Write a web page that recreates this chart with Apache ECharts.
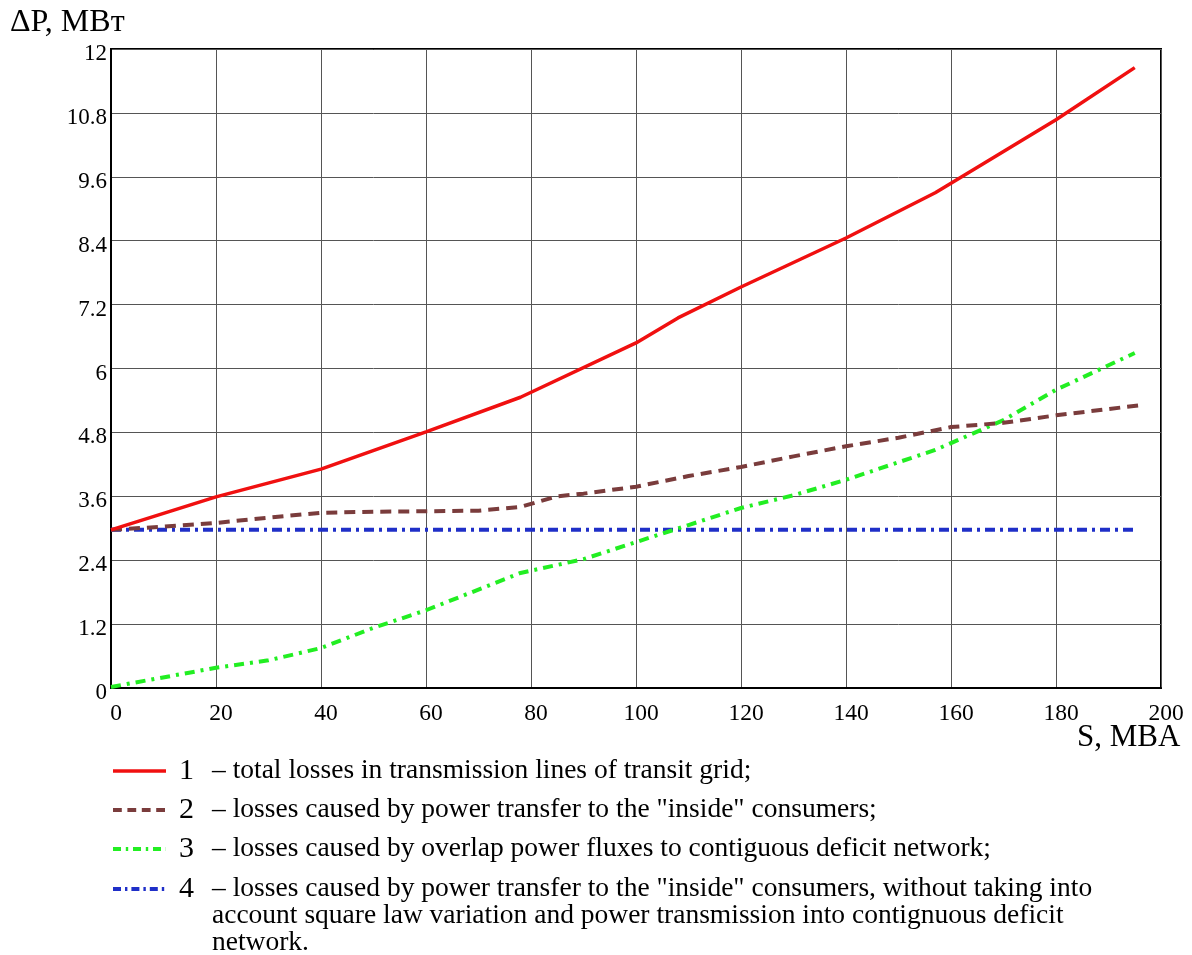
<!DOCTYPE html>
<html><head><meta charset="utf-8">
<script src="https://cdn.jsdelivr.net/npm/echarts@6/dist/echarts.min.js"></script>
<style>html,body{margin:0;padding:0;background:#fff}#c{width:1192px;height:955px}</style>
</head><body><div id="c"></div>
<script>
// ---- data ----
const xTicks = [0,20,40,60,80,100,120,140,160,180,200];
const yTicks = [0,1.2,2.4,3.6,4.8,6,7.2,8.4,9.6,10.8,12];

const s1X = [0,20,40,60,78,100,108,120,140,157,160,180,195];
const s1Y = [2.97,3.59,4.11,4.81,5.46,6.48,6.95,7.53,8.45,9.30,9.48,10.67,11.65];

const s2X = [0,10,20,30,40,50,60,70,78,85,90,100,110,120,130,140,150,160,170,180,196];
const s2Y = [2.97,3.03,3.10,3.20,3.29,3.31,3.32,3.33,3.40,3.60,3.65,3.78,3.98,4.15,4.35,4.54,4.70,4.90,4.98,5.12,5.31];

const s3X = [0,20,30,40,50,60,78,90,100,110,120,130,140,150,157,160,170,180,195];
const s3Y = [0.02,0.38,0.52,0.75,1.13,1.46,2.16,2.42,2.74,3.06,3.38,3.62,3.91,4.24,4.47,4.60,5.03,5.60,6.29];

const s4X = [0,195];
const s4Y = [2.97,2.97];

const legendNums = ['1','2','3','4'];
const legendTexts = [
  '– total losses in transmission lines of transit grid;',
  '– losses caused by power transfer to the "inside" consumers;',
  '– losses caused by overlap power fluxes to contiguous deficit network;',
  '– losses caused by power transfer to the "inside" consumers, without taking into\naccount square law variation and power transmission into contignuous deficit\nnetwork.'
];
const yTitle = 'ΔP, МВт';
const xTitle = 'S, MBA';

// ---- chart ----
const FONT = '"Liberation Serif","DejaVu Serif",serif';
const pairs = (xs, ys) => xs.map((x,i)=>[x, ys[i]]);
const styles = [
  {color:'#f01010', width:3.5, type:'solid'},
  {color:'#7a3c3c', width:4, type:[11,7]},
  {color:'#22ee22', width:4, type:[10,6,3,6]},
  {color:'#1f2fc8', width:4, type:[10,5,3,5]}
];
const data = [pairs(s1X,s1Y), pairs(s2X,s2Y), pairs(s3X,s3Y), pairs(s4X,s4Y)];

const chart = echarts.init(document.getElementById('c'), null, {renderer:'canvas'});
const legendRowsY = [771, 810, 849, 889];
const graphic = [
  {type:'text', x:10, y:7, style:{text:yTitle, font:'32px '+FONT, fill:'#000', verticalAlign:'top'}},
  {type:'text', x:1077, y:722, style:{text:xTitle, font:'31px '+FONT, fill:'#000', verticalAlign:'top'}}
];
legendRowsY.forEach((y,i)=>{
  graphic.push({type:'line', shape:{x1:113,y1:y,x2:166,y2:y},
    style:{stroke:styles[i].color, lineWidth:styles[i].width,
      lineDash: styles[i].type==='solid'?null:styles[i].type.map(v=>v*0.8)}});
  graphic.push({type:'text', x:179, y:y, style:{text:legendNums[i], font:'30px '+FONT, fill:'#000', verticalAlign:'middle'}});
  graphic.push({type:'text', x:212, y:y-13.5, style:{text:legendTexts[i], font:'27.5px '+FONT, fill:'#000', lineHeight:27, verticalAlign:'top'}});
});

chart.setOption({
  backgroundColor:'#fff',
  animation:false,
  grid:{left:111, top:49, width:1050, height:639, show:true, borderColor:'#000', borderWidth:2, containLabel:false},
  xAxis:{type:'value', min:0, max:200, interval:20,
    axisLine:{show:true, lineStyle:{color:'#000', width:2}},
    axisTick:{show:false},
    axisLabel:{fontFamily:FONT, fontSize:23.5, color:'#000', margin:14, padding:[0,0,0,10],
      formatter:v=>xTicks.includes(v)?String(v):''},
    splitLine:{show:true, lineStyle:{color:'#555', width:1}}},
  yAxis:{type:'value', min:0, max:12, interval:1.2,
    axisLine:{show:true, lineStyle:{color:'#000', width:2}},
    axisTick:{show:false},
    axisLabel:{fontFamily:FONT, fontSize:23, color:'#000', margin:4, verticalAlign:'top', lineHeight:10,
      formatter:v=>{const t=yTicks.find(k=>Math.abs(k-v)<1e-6); return t===undefined?'':String(t);}},
    splitLine:{show:true, lineStyle:{color:'#555', width:1}}},
  graphic: graphic,
  series: data.map((d,i)=>({
    type:'line', name:legendNums[i], data:d, showSymbol:false, smooth:false,
    lineStyle:{color:styles[i].color, width:styles[i].width, type:styles[i].type},
    itemStyle:{color:styles[i].color}, z:10-i
  }))
});
</script></body></html>
